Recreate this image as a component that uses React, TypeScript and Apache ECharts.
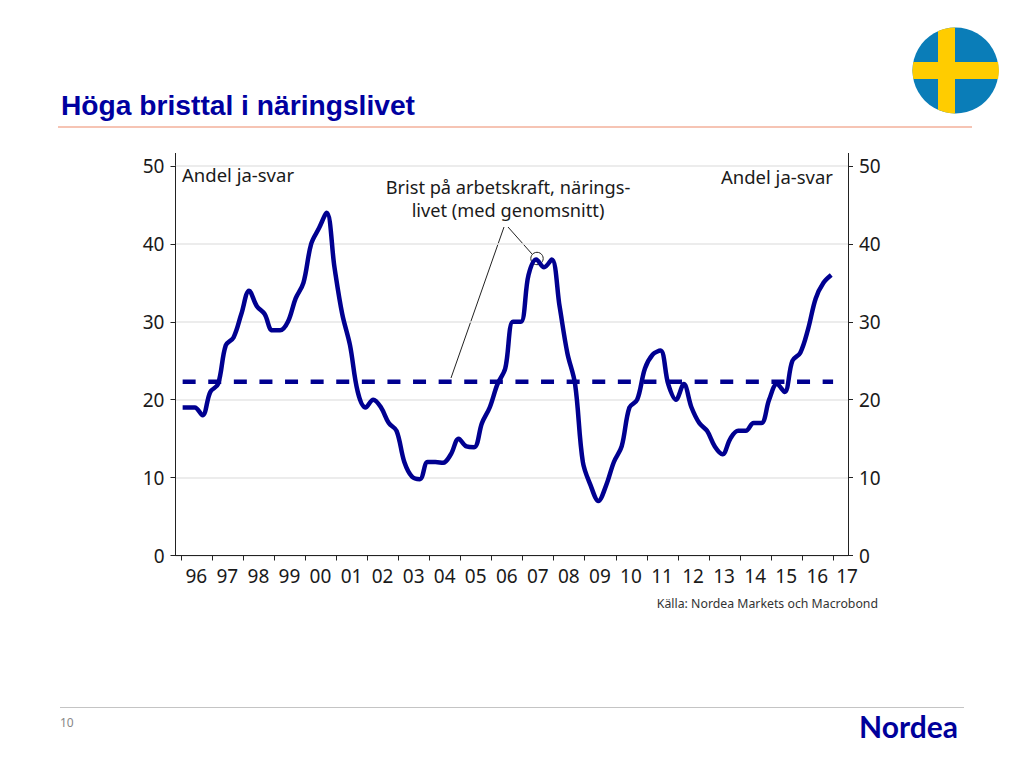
import React, { useEffect, useRef } from "react";
import * as echarts from "echarts";

const yearTicks = [1996,1997,1998,1999,2000,2001,2002,2003,2004,2005,2006,2007,2008,2009,2010,2011,2012,2013,2014,2015,2016,2017];
const valueTicks = [0, 10, 20, 30, 40, 50];
const shares = [19,19,19,18,21,22,27,28,31,34,32,31,28.9,28.9,30,33,35,40,42,44,37,31,27,21,19,20,19,17,16,12,10.1,9.8,12,12,11.9,13,15,14,13.9,17,19,22,24,30,30,36,38,37,38,32,26,22,12,9,7,9,12,14,19,20,24,25.8,26.3,22,20,22,19,17,16,14,13,15,16,16,17,17,20,22,21,25,26,29,33,35,36];
const firstPointYear = 1996.05;
const firstQuarter = 1995.94;
const averageShare = 22.3;
const averageSpan = [1996.05, 2017];
const title = "Höga bristtal i näringslivet";
const unitLabel = "Andel ja-svar";
const seriesLabel = ["Brist på arbetskraft, närings-", "livet (med genomsnitt)"];
const sourceLabel = "Källa: Nordea Markets och Macrobond";

const LINE = "#000090";
const FONT = "'Noto Sans', sans-serif";

const flagCross =
  "M938 31.2A43 43 0 0 1 955 27.5L955 62L998.1 62A43 43 0 0 1 998.1 79L955 79L955 113.5A43 43 0 0 1 938 109.8L938 79L913.3 79A43 43 0 0 1 913.3 62L938 62Z";
echarts.graphic.registerShape("flagCross", echarts.graphic.extendPath(flagCross, {}));

export default function App() {
  const ref = useRef<HTMLDivElement>(null);
  useEffect(() => {
    const chart = echarts.init(ref.current!, undefined, { renderer: "svg" });
    const linePoints = shares.map((v, i) => [i === 0 ? firstPointYear : firstQuarter + i / 4, v]);
    const text = (x: number, y: number, t: string, size: number, fill: string, align = "left", extra: any = {}) => ({
      type: "text",
      x,
      y,
      silent: true,
      style: { text: t, font: `${extra.weight || 400} ${size}px ${extra.family || FONT}`, fill, align, verticalAlign: "middle" },
    });
    const seg = (x1: number, y1: number, x2: number, y2: number, stroke: string, lineWidth = 1) => ({
      type: "line",
      silent: true,
      shape: { x1, y1, x2, y2 },
      style: { stroke, lineWidth },
    });
    chart.setOption({
      animation: false,
      backgroundColor: "#ffffff",
      grid: { left: 175.5, right: 176, top: 166, bottom: 212.5, containLabel: false },
      xAxis: {
        type: "value",
        min: 1995.82,
        max: 2017.48,
        axisLine: { show: true, onZero: false, lineStyle: { color: "#222", width: 1 } },
        axisTick: { show: true, inside: false, length: 5, customValues: yearTicks, lineStyle: { color: "#222", width: 1 } },
        axisLabel: {
          show: true,
          margin: 11,
          fontSize: 19,
          fontFamily: FONT,
          color: "#1a1a1a",
          customValues: yearTicks.map((y) => y + (y === 2017 ? 0.45 : 0.49)),
          formatter: (v: number) => String(Math.floor(v)).slice(2),
        },
        splitLine: { show: false },
      },
      yAxis: [
        {
          type: "value",
          min: valueTicks[0],
          max: valueTicks[valueTicks.length - 1],
          interval: 10,
          axisLine: { show: true, lineStyle: { color: "#222", width: 1 } },
          axisTick: { show: true, length: 5, lineStyle: { color: "#222", width: 1 } },
          axisLabel: { margin: 11, fontSize: 19, fontFamily: FONT, color: "#1a1a1a" },
          splitLine: { show: true, lineStyle: { color: "#e6e6e6", width: 1.5 } },
        },
        {
          type: "value",
          position: "right",
          min: valueTicks[0],
          max: valueTicks[valueTicks.length - 1],
          interval: 10,
          axisLine: { show: true, lineStyle: { color: "#222", width: 1 } },
          axisTick: { show: true, length: 5, lineStyle: { color: "#222", width: 1 } },
          axisLabel: { margin: 11, fontSize: 19, fontFamily: FONT, color: "#1a1a1a" },
          splitLine: { show: false },
        },
      ],
      series: [
        {
          type: "line",
          name: "Genomsnitt",
          data: averageSpan.map((y) => [y, averageShare]),
          showSymbol: false,
          symbol: "none",
          silent: true,
          lineStyle: { color: LINE, width: 4.5, type: [13, 12.6], cap: "butt" },
          z: 3,
        },
        {
          type: "line",
          name: "Brist på arbetskraft",
          data: linePoints,
          showSymbol: false,
          symbol: "none",
          smooth: 0.35,
          silent: true,
          lineStyle: { color: LINE, width: 4.5, cap: "butt", join: "round" },
          z: 4,
        },
      ],
      graphic: [
        seg(175.5, 153, 175.5, 166, "#222"),
        seg(848.5, 153, 848.5, 166, "#222"),
        text(61, 105, title, 28.2, "#0000a0", "left", { weight: 700, family: "'Liberation Sans', Arial, sans-serif" }),
        seg(58, 127, 972, 127, "#f6c4b4", 2),
        { type: "circle", silent: true, shape: { cx: 955.5, cy: 70.5, r: 43 }, style: { fill: "#0a7db8" } },
        { type: "flagCross", silent: true, x: 0, y: 0, style: { fill: "#ffcc00" } },
        text(182, 174.5, unitLabel, 18.5, "#1a1a1a"),
        text(833, 176.5, unitLabel, 18.5, "#1a1a1a", "right"),
        text(508, 187, seriesLabel[0], 18.2, "#1a1a1a", "center"),
        text(508, 210, seriesLabel[1], 18.2, "#1a1a1a", "center"),
        seg(504, 227, 451, 378, "#222"),
        seg(508, 227, 532, 254, "#222"),
        { type: "circle", silent: true, shape: { cx: 537, cy: 258.5, r: 6.2 }, style: { fill: "none", stroke: "#222", lineWidth: 1 } },
        text(878, 603.5, sourceLabel, 12.3, "#333", "right"),
        seg(60, 707.5, 964, 707.5, "#c4c4c4"),
        text(60, 722, "10", 12, "#888"),
        text(908.5, 726, "Nordea", 30, "#00009b", "center", { weight: 700, family: "Lato, sans-serif" }),
      ],
    });
    return () => chart.dispose();
  }, []);
  return <div ref={ref} style={{ position: "fixed", left: 0, top: 0, width: 1024, height: 768 }} />;
}
